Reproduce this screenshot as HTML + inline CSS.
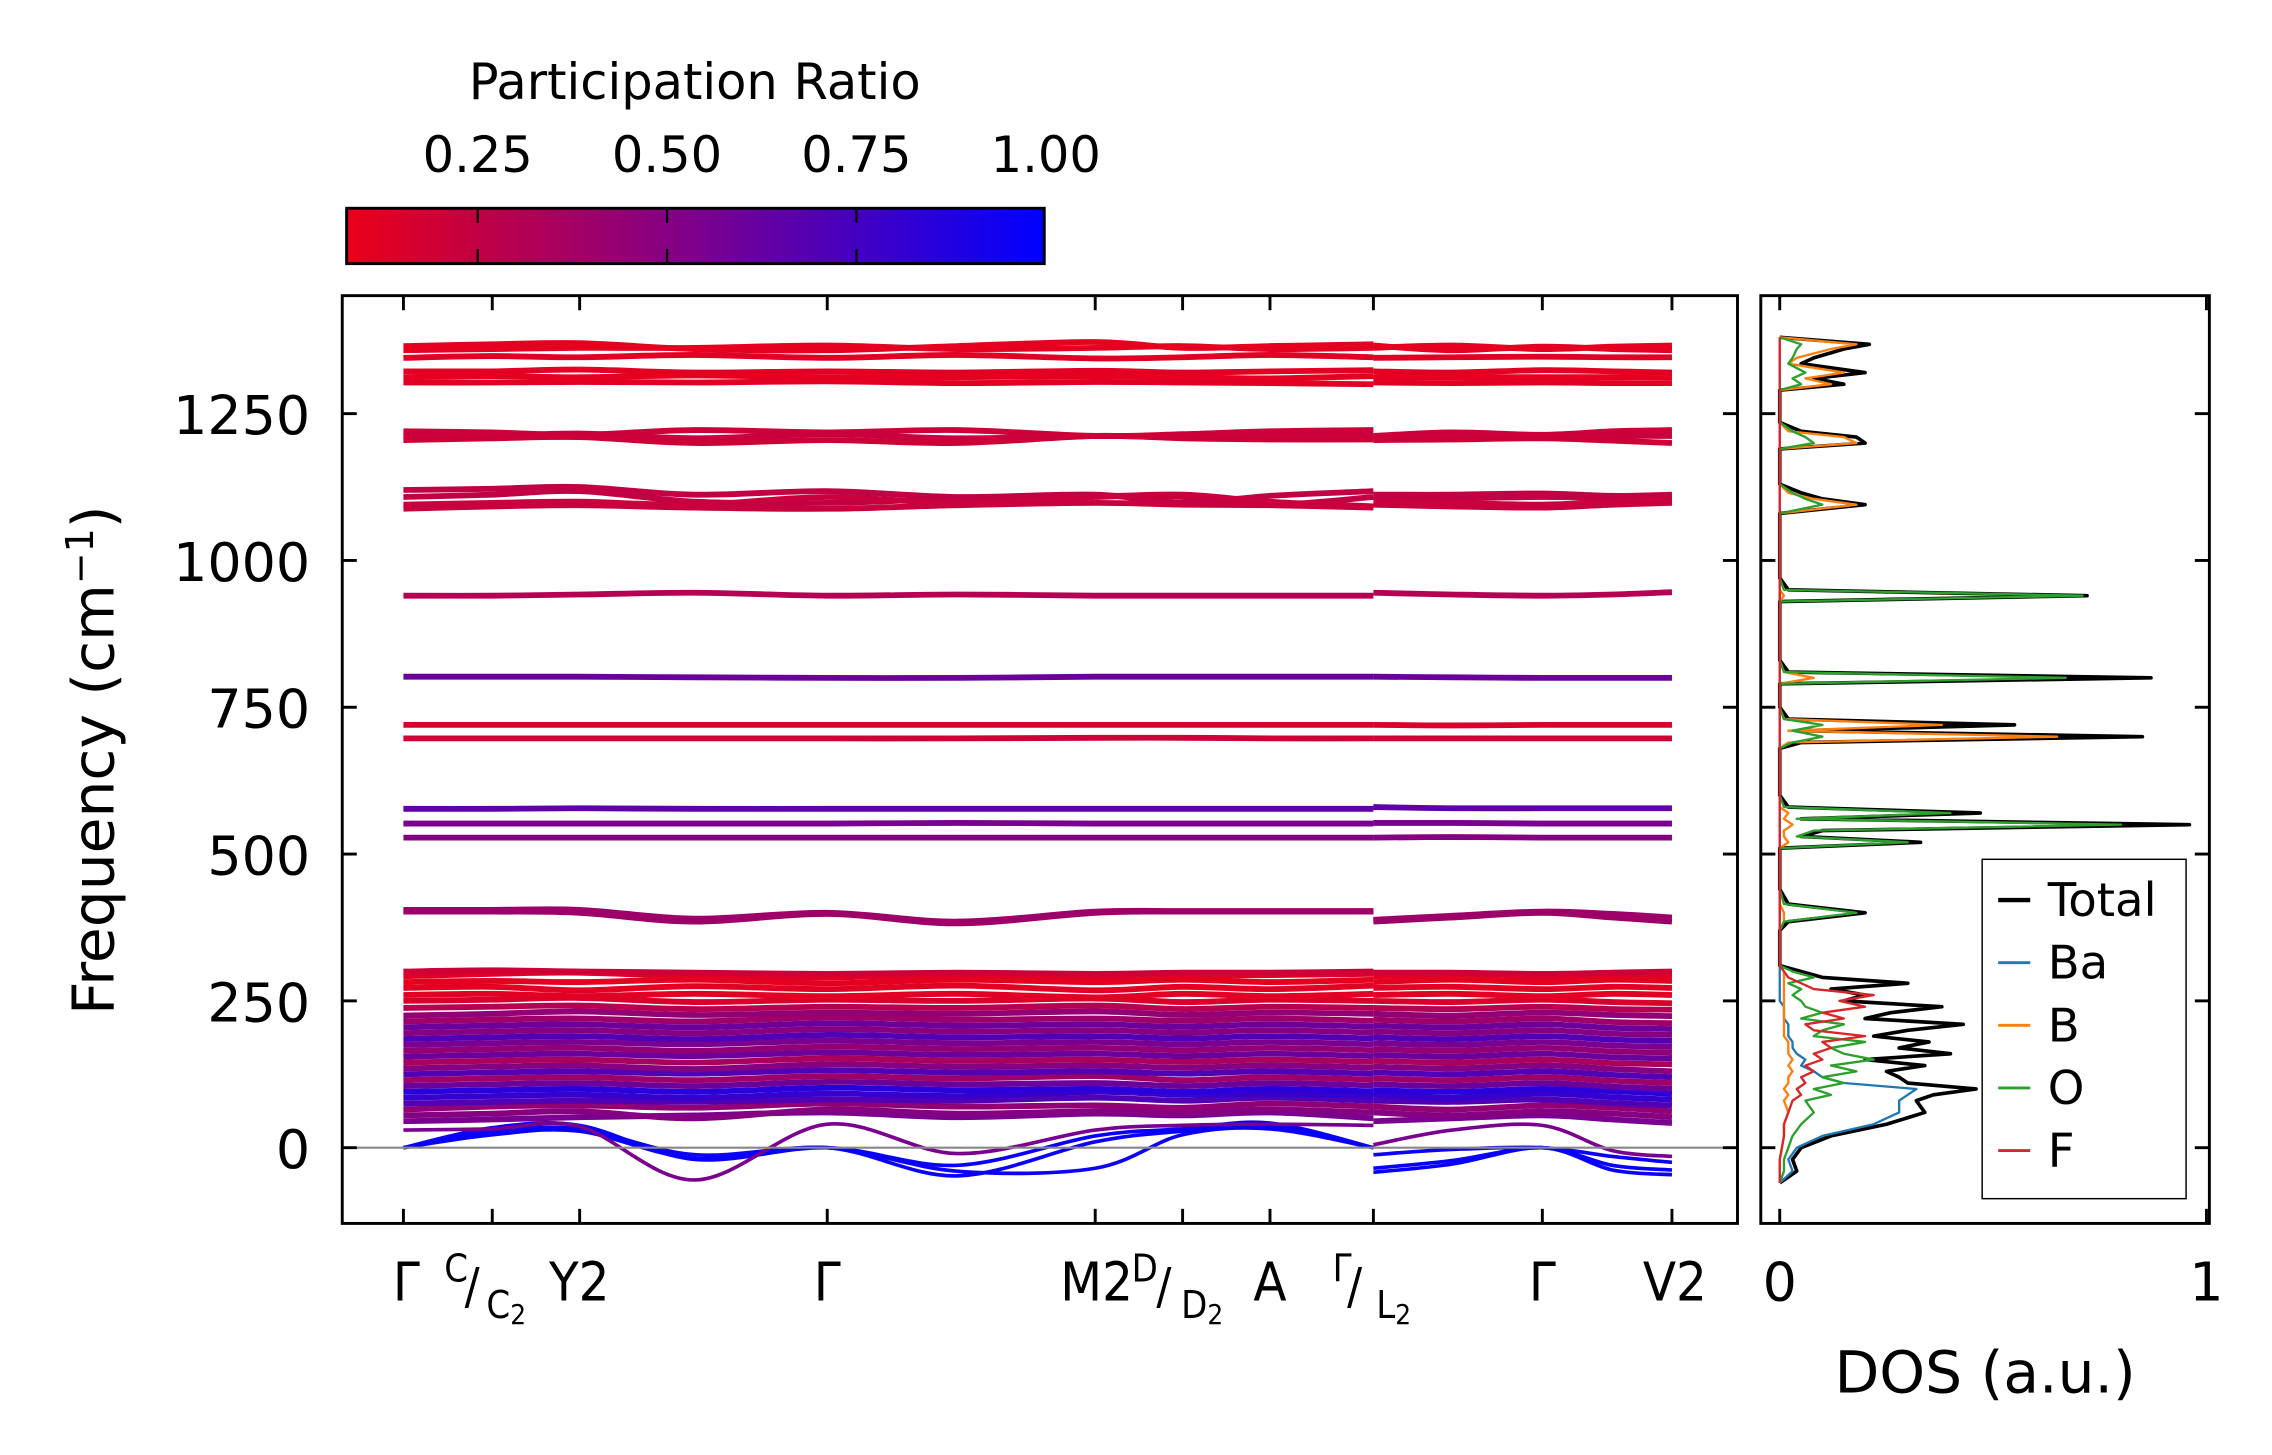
<!DOCTYPE html>
<html><head><meta charset="utf-8"><style>
html,body{margin:0;padding:0;background:#fff;}
svg{display:block;font-family:"DejaVu Sans","Liberation Sans",sans-serif;}
.cond{font-family:"DejaVu Sans Condensed","DejaVu Sans","Liberation Sans",sans-serif;}
</style></head><body>
<svg id="fig" width="2272" height="1455" viewBox="0 0 1560 999" preserveAspectRatio="none" xmlns="http://www.w3.org/2000/svg">
<defs>
<linearGradient id="cbg" x1="0" x2="1" y1="0" y2="0">
<stop offset="0" stop-color="rgb(235,0,25)"/><stop offset="0.5" stop-color="rgb(125,0,140)"/><stop offset="1" stop-color="rgb(0,0,255)"/>
</linearGradient>
<clipPath id="mainclip"><rect x="235" y="203" width="958" height="637"/></clipPath>
<clipPath id="dosclip"><rect x="1209" y="203" width="308" height="637"/></clipPath>
</defs>
<g>
<text x="477" y="68" font-size="34" text-anchor="middle">Participation Ratio</text>
<rect x="238" y="143" width="479" height="38" fill="url(#cbg)" stroke="#000" stroke-width="2"/>
<g id="cbticks"></g>
</g>
<g id="main">
<g id="bands" clip-path="url(#mainclip)"></g>
<line x1="235" x2="1193" y1="788" y2="788" stroke="#888" stroke-width="1.5"/>
<rect x="235" y="203" width="958" height="637" fill="none" stroke="#000" stroke-width="2"/>
<g id="mainticks"></g>
<text transform="translate(78,522) rotate(-90)" font-size="40" text-anchor="middle">Frequency (cm<tspan dy="-14" font-size="26">−1</tspan><tspan dy="14">)</tspan></text>
<g class="cond" font-size="37">
<text x="279" y="893" text-anchor="middle">Γ</text>
<text x="305" y="880" font-size="26">C</text>
<text x="319" y="895" font-size="34">/</text>
<text x="334" y="905" font-size="26">C<tspan font-size="19" dy="4">2</tspan></text>
<text x="377" y="893">Y<tspan>2</tspan></text>
<text x="568" y="893" text-anchor="middle">Γ</text>
<text x="728" y="893">M2</text>
<text x="777" y="880" font-size="26">D</text>
<text x="794" y="895" font-size="34">/</text>
<text x="811" y="905" font-size="26">D<tspan font-size="19" dy="4">2</tspan></text>
<text x="872" y="893" text-anchor="middle">A</text>
<text x="915" y="880" font-size="26">Γ</text>
<text x="925" y="895" font-size="34">/</text>
<text x="945" y="905" font-size="26">L<tspan font-size="19" dy="4">2</tspan></text>
<text x="1059" y="893" text-anchor="middle">Γ</text>
<text x="1150" y="893" text-anchor="middle">V2</text>
</g>
</g>
<g id="dos">
<g id="doslines" clip-path="url(#dosclip)"></g>
<rect x="1209" y="203" width="308" height="637" fill="none" stroke="#000" stroke-width="2"/>
<g id="dosticks"></g>
<text x="1222" y="893" font-size="37" text-anchor="middle">0</text>
<text x="1515" y="893" font-size="37" text-anchor="middle">1</text>
<text x="1363" y="956" font-size="40" text-anchor="middle">DOS (a.u.)</text>
<g>
<rect x="1361" y="590" width="140" height="233" fill="#fff" stroke="#000" stroke-width="1"/>
<g id="legendentries"></g>
</g>
</g>
</svg>
<script>
const cbTicks = [0.25, 0.5, 0.75, 1.0];
const cbTickLabels = ["0.25", "0.50", "0.75", "1.00"];
const yTicks = [0, 250, 500, 750, 1000, 1250];
const kLabelsPos = [0, 0.61, 1.21, 2.91, 4.75, 5.35, 5.95, 6.66, 7.82, 8.71];
const seg1K = [0, 0.61, 1.21, 2.0, 2.91, 3.8, 4.75, 5.35, 5.95, 6.66];
const seg2K = [6.66, 7.2, 7.82, 8.3, 8.71];
const bandFreqs = [
[1365,1368,1370,1360,1358,1365,1372,1362,1365,1368, 1362,1366,1360,1364,1366],
[1358,1360,1362,1362,1366,1360,1362,1365,1360,1362, 1366,1358,1364,1360,1358],
[1345,1348,1346,1350,1345,1350,1344,1346,1350,1346, 1345,1346,1347,1346,1346],
[1322,1322,1325,1320,1322,1320,1323,1320,1322,1324, 1322,1320,1324,1322,1320],
[1312,1314,1312,1315,1312,1312,1314,1312,1310,1314, 1312,1312,1312,1312,1312],
[1303,1303,1304,1303,1305,1302,1304,1303,1302,1300, 1303,1302,1303,1302,1302],
[1220,1218,1214,1222,1218,1222,1212,1215,1220,1222, 1212,1218,1214,1220,1222],
[1212,1212,1216,1208,1215,1208,1212,1210,1212,1212, 1210,1212,1210,1212,1212],
[1205,1208,1210,1200,1205,1200,1212,1208,1206,1206, 1205,1206,1208,1204,1200],
[1120,1122,1125,1112,1118,1108,1112,1098,1110,1118, 1112,1112,1114,1110,1112],
[1108,1112,1118,1100,1098,1105,1110,1108,1095,1108, 1108,1106,1108,1106,1106],
[1095,1098,1100,1095,1108,1098,1108,1112,1100,1092, 1100,1098,1095,1100,1102],
[1088,1092,1094,1090,1088,1094,1098,1095,1094,1090, 1095,1092,1090,1095,1098],
[940,940,942,945,940,942,940,940,940,940, 945,942,940,942,946],
[802,802,802,801,800,800,802,802,802,802, 802,801,800,800,800],
[720,720,720,720,720,720,720,720,720,720, 720,719,720,720,720],
[697,697,697,697,697,697,698,698,697,697, 697,697,697,697,697],
[577,577,578,577,577,577,577,577,577,577, 580,578,578,578,578],
[552,552,552,552,552,553,552,552,552,552, 553,553,552,552,552],
[528,528,528,528,528,528,528,528,528,528, 528,529,528,528,528],
[405,405,405,390,400,385,402,403,403,403, 388,395,402,398,392],
[402,402,400,385,398,382,400,402,402,402, 385,392,400,392,385],
[45,48,52,55,60,52,58,55,60,50, 45,50,55,48,42],
[55,58,62,50,65,58,62,60,65,60, 60,55,62,58,52],
[65,70,72,68,75,70,72,68,75,70, 70,65,72,68,62],
[75,78,80,78,82,80,85,80,85,80, 80,78,82,76,72],
[85,88,90,85,92,88,95,90,92,88, 90,85,92,86,82],
[95,98,100,95,102,98,100,95,100,96, 98,95,100,96,92],
[105,108,110,105,112,108,110,105,110,106, 108,105,110,104,100],
[115,118,120,115,122,118,122,115,120,116, 118,115,120,114,110],
[125,128,130,126,132,128,130,126,130,126, 128,125,130,124,120],
[135,138,140,134,142,138,140,136,140,136, 138,135,140,134,130],
[145,148,150,145,152,148,150,146,150,146, 148,145,150,144,142],
[155,158,160,156,162,158,160,156,160,156, 158,155,160,154,152],
[165,168,170,165,172,168,170,166,170,166, 168,165,170,164,162],
[175,178,180,176,182,178,180,176,180,176, 178,175,180,174,172],
[185,188,190,185,192,188,190,186,190,186, 188,185,190,184,182],
[195,198,200,195,202,198,200,196,200,196, 198,195,200,194,192],
[205,208,210,205,212,208,210,206,210,206, 208,205,210,204,202],
[215,218,220,215,222,218,220,216,220,216, 218,215,220,214,212],
[225,228,232,226,230,228,232,226,230,228, 228,225,230,226,224],
[238,240,242,236,240,238,242,236,240,238, 238,236,240,236,235],
[250,252,255,248,252,250,254,248,252,250, 250,248,252,248,246],
[260,262,258,262,258,262,256,262,258,262, 260,262,258,262,260],
[272,274,268,275,270,276,268,274,270,276, 272,274,270,274,272],
[282,284,282,286,280,286,282,286,282,286, 282,286,282,286,284],
[292,296,298,292,290,294,290,292,294,296, 292,294,290,294,292],
[300,302,300,298,296,298,296,298,298,300, 298,298,296,298,300],
[0,28,32,-12,0,-40,-35,22,32,0, -12,-3,0,-15,-25],
[0,22,28,-18,0,-48,10,28,36,0, -35,-22,0,-30,-38],
[0,34,38,-20,0,-30,20,32,42,0, -42,-28,0,-38,-46],
[30,32,36,-55,40,-10,30,38,40,38, 5,30,38,-5,-15]
];
const bandRatio = [
0.1,0.1,0.12,0.12,0.1,0.12, 0.2,0.22,0.2, 0.25,0.25,0.22,0.22, 0.3, 0.6, 0.15,0.2, 0.65,0.55,0.5, 0.4,0.4,
0.55,0.5,0.45,0.7,0.8,0.85,0.6,0.4,0.7,0.5,0.35,0.6,0.45,0.55,0.7,0.5,0.6,0.4,0.45,0.3,0.15,0.12,0.12,0.1,0.12,0.2,
0.95,0.97,0.97,0.55
];
const dosFreq = [-60,-40,-20,0,20,40,60,80,90,100,110,120,130,140,150,160,170,180,190,200,210,220,230,240,250,260,270,280,290,300,310,
370,385,400,415,440, 510,520,530,540,550,560,570,580,600, 680,690,700,710,720,730,750, 790,800,810,830, 930,940,950,970,
1080,1095,1105,1115,1130, 1190,1200,1210,1220,1235, 1290,1300,1310,1320,1335,1345,1360,1368,1380];
const dosTotal = [0,0.04,0.03,0.05,0.12,0.25,0.34,0.32,0.36,0.46,0.30,0.28,0.25,0.34,0.20,0.40,0.28,0.35,0.22,0.30,0.43,0.20,0.26,0.38,0.15,0.20,0.12,0.30,0.10,0.05,0,
0,0.02,0.20,0.02,0, 0,0.33,0.05,0.10,0.96,0.05,0.47,0.02,0, 0,0.05,0.85,0.05,0.55,0.02,0, 0,0.87,0.02,0, 0,0.72,0.02,0,
0,0.20,0.10,0.05,0, 0,0.20,0.18,0.05,0, 0,0.15,0.08,0.20,0.05,0.08,0.15,0.21,0];
const dosBa = [0,0.03,0.02,0.04,0.10,0.22,0.28,0.28,0.30,0.32,0.15,0.10,0.08,0.05,0.06,0.04,0.03,0.03,0.02,0.02,0.02,0.01,0.01,0.01,0,0,0,0,0,0,0,
0,0,0,0,0, 0,0,0,0,0,0,0,0,0, 0,0,0,0,0,0,0, 0,0,0,0, 0,0,0,0, 0,0,0,0,0, 0,0,0,0,0, 0,0,0,0,0,0,0,0,0];
const dosB = [0,0,0,0.005,0.01,0.01,0.02,0.01,0.02,0.01,0.02,0.02,0.03,0.02,0.03,0.02,0.02,0.02,0.01,0.01,0.01,0.01,0.01,0.01,0.01,0.01,0.01,0.01,0.01,0.01,0,
0,0.01,0.01,0,0, 0,0.02,0.01,0.01,0.03,0.01,0.02,0,0, 0,0.02,0.65,0.02,0.38,0.01,0, 0,0.08,0.01,0, 0,0.01,0,0,
0,0.18,0.08,0.02,0, 0,0.18,0.15,0.02,0, 0,0.12,0.06,0.15,0.02,0.04,0.12,0.18,0];
const dosO = [0,0.01,0.01,0.02,0.03,0.05,0.08,0.06,0.12,0.08,0.15,0.10,0.18,0.12,0.22,0.15,0.12,0.20,0.08,0.10,0.15,0.05,0.10,0.06,0.05,0.03,0.05,0.02,0.08,0.03,0,
0,0.01,0.18,0.01,0, 0,0.30,0.04,0.08,0.80,0.04,0.40,0.01,0, 0,0.03,0.10,0.03,0.10,0.01,0, 0,0.67,0.01,0, 0,0.71,0.01,0,
0,0.10,0.06,0.03,0, 0,0.08,0.06,0.03,0, 0,0.05,0.03,0.06,0.02,0.03,0.04,0.05,0];
const dosF = [0,0,0,0.005,0.01,0.01,0.02,0.03,0.05,0.04,0.06,0.05,0.08,0.06,0.10,0.08,0.12,0.10,0.20,0.08,0.06,0.15,0.10,0.20,0.14,0.22,0.08,0.05,0.02,0.01,0,
0,0,0,0,0, 0,0,0,0,0,0,0,0,0, 0,0,0,0,0,0,0, 0,0,0,0, 0,0,0,0, 0,0,0,0,0, 0,0,0,0,0, 0,0,0,0,0,0,0,0,0];
const legendLabels = ["Total","Ba","B","O","F"];
const legendColors = ["#000000","#1f77b4","#ff7f0e","#2ca02c","#d62728"];

const NS = "http://www.w3.org/2000/svg";
const yOf = f => 788 - f * 0.4032;
const xOfK = k => 277 + k * 100;
const xOfDos = v => 1222 + v * 293;
const xOfCb = r => 328 + (r - 0.25) * 520;
function ratioColor(r){
  const t = Math.max(0, Math.min(1, (r - 0.077) / 0.923));
  let R, B;
  if (t < 0.5) { const u = t / 0.5; R = 235 + (125 - 235) * u; B = 25 + (140 - 25) * u; }
  else { const u = (t - 0.5) / 0.5; R = 125 * (1 - u); B = 140 + 115 * u; }
  return `rgb(${Math.round(R)},0,${Math.round(B)})`;
}
function mk(tag, attrs, parent){
  const e = document.createElementNS(NS, tag);
  for (const k in attrs) e.setAttribute(k, attrs[k]);
  parent.appendChild(e); return e;
}
function smoothPath(pts){
  let d = `M${pts[0][0]},${pts[0][1]}`;
  for (let i = 0; i < pts.length - 1; i++){
    const p0 = pts[Math.max(0,i-1)], p1 = pts[i], p2 = pts[i+1], p3 = pts[Math.min(pts.length-1,i+2)];
    const c1x = p1[0] + (p2[0]-p0[0])/6, c1y = p1[1] + (p2[1]-p0[1])/6;
    const c2x = p2[0] - (p3[0]-p1[0])/6, c2y = p2[1] - (p3[1]-p1[1])/6;
    d += ` C${c1x},${c1y} ${c2x},${c2y} ${p2[0]},${p2[1]}`;
  }
  return d;
}

const cbg = document.getElementById('cbticks');
cbTicks.forEach((r, i) => {
  const x = xOfCb(r);
  if (r < 1) {
    const l = mk('line', {x1:x, x2:x, y1:143, y2:181, stroke:'#000', 'stroke-width':1.5, 'stroke-dasharray':'10 18'}, cbg);
    
    
  }
  const t = mk('text', {x:x, y:118, 'font-size':34, 'text-anchor':'middle'}, cbg);
  t.textContent = cbTickLabels[i];
  
  
});

const bg = document.getElementById('bands');
bandFreqs.forEach((b, i) => {
  const col = ratioColor(bandRatio[i]);
  const w = i >= bandFreqs.length - 4 ? 2.5 : 4;
  const p1 = seg1K.map((k, j) => [xOfK(k), yOf(b[j])]);
  const p2 = seg2K.map((k, j) => [xOfK(k), yOf(b[10 + j])]);
  [p1, p2].forEach(pts => {
    const p = mk('path', {d: smoothPath(pts), fill:'none', stroke:col, 'stroke-width':w}, bg);
    
    
  });
});

const mt = document.getElementById('mainticks');
yTicks.forEach(f => {
  const y = yOf(f);
  mk('line', {x1:235, x2:245, y1:y, y2:y, stroke:'#000', 'stroke-width':2}, mt);
  mk('line', {x1:1183, x2:1193, y1:y, y2:y, stroke:'#000', 'stroke-width':2}, mt);
  const t = mk('text', {x:213, y:y+14, 'font-size':37, 'text-anchor':'end'}, mt);
  t.textContent = String(f);
  
  
});
kLabelsPos.forEach(k => {
  const x = xOfK(k);
  mk('line', {x1:x, x2:x, y1:203, y2:213, stroke:'#000', 'stroke-width':2}, mt);
  mk('line', {x1:x, x2:x, y1:830, y2:840, stroke:'#000', 'stroke-width':2}, mt);
});

const dl = document.getElementById('doslines');
[[dosTotal,0],[dosBa,1],[dosB,2],[dosO,3],[dosF,4]].forEach(([arr, ci]) => {
  const pts = arr.map((v, j) => `${xOfDos(v).toFixed(1)},${yOf(dosFreq[j]).toFixed(1)}`).join(' ');
  const p = mk('polyline', {points:pts, fill:'none', stroke:legendColors[ci], 'stroke-width': ci === 0 ? 2.5 : 1.6, 'stroke-linejoin':'round'}, dl);
  
  
});
const dt = document.getElementById('dosticks');
yTicks.forEach(f => {
  const y = yOf(f);
  mk('line', {x1:1209, x2:1219, y1:y, y2:y, stroke:'#000', 'stroke-width':2}, dt);
  mk('line', {x1:1507, x2:1517, y1:y, y2:y, stroke:'#000', 'stroke-width':2}, dt);
});
[0, 1].forEach(v => {
  const x = xOfDos(v);
  mk('line', {x1:x, x2:x, y1:203, y2:213, stroke:'#000', 'stroke-width':2}, dt);
  mk('line', {x1:x, x2:x, y1:830, y2:840, stroke:'#000', 'stroke-width':2}, dt);
});

const lg = document.getElementById('legendentries');
legendLabels.forEach((lab, i) => {
  const y = 618 + i * 43;
  const g = mk('g', {}, lg);
  
  
  mk('line', {x1:1372, x2:1394, y1:y, y2:y, stroke:legendColors[i], 'stroke-width': i === 0 ? 3 : 2}, g);
  const t = mk('text', {x:1406, y:y+11, 'font-size':32}, g);
  t.textContent = lab;
});
</script>
</body></html>
